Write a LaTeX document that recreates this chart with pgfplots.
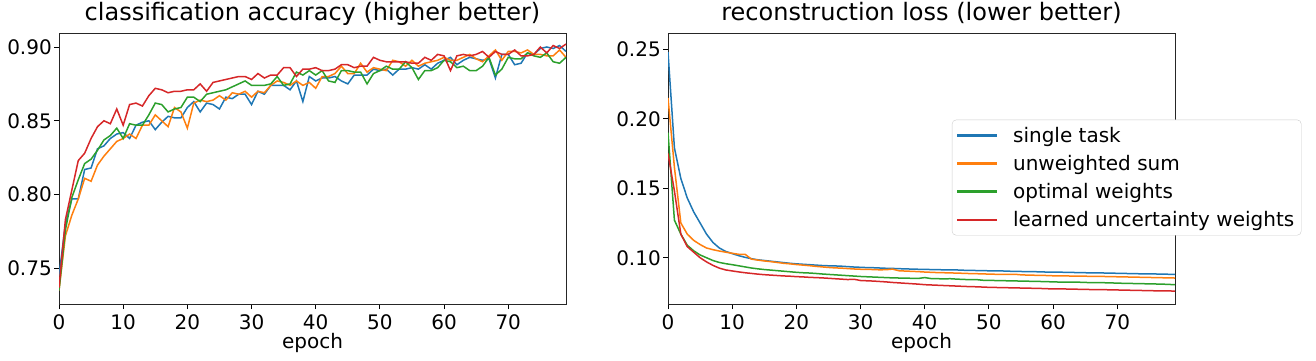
\documentclass[border=0pt]{standalone}
\usepackage{fontspec}
\setmainfont{DejaVu Sans}
\usepackage{pgfplots}
\usepackage{pgfplotstable}
\pgfplotsset{compat=1.18}
\definecolor{tabblue}{HTML}{1F77B4}
\definecolor{taborange}{HTML}{FF7F0E}
\definecolor{tabgreen}{HTML}{2CA02C}
\definecolor{tabred}{HTML}{D62728}

\pgfplotstableread{
e st us ow lu
0 0.745 0.735 0.735 0.737
1 0.780 0.772 0.776 0.783
2 0.797 0.786 0.798 0.803
3 0.797 0.797 0.810 0.823
4 0.817 0.811 0.821 0.828
5 0.818 0.809 0.824 0.838
6 0.831 0.820 0.830 0.846
7 0.833 0.826 0.837 0.850
8 0.838 0.831 0.840 0.848
9 0.841 0.836 0.845 0.858
10 0.842 0.838 0.838 0.847
11 0.838 0.841 0.848 0.861
12 0.847 0.838 0.847 0.862
13 0.849 0.847 0.847 0.860
14 0.850 0.847 0.854 0.867
15 0.844 0.854 0.862 0.872
16 0.849 0.850 0.861 0.871
17 0.853 0.846 0.856 0.869
18 0.852 0.859 0.858 0.870
19 0.852 0.856 0.859 0.870
20 0.859 0.845 0.866 0.871
21 0.863 0.862 0.866 0.871
22 0.856 0.864 0.863 0.875
23 0.862 0.863 0.868 0.870
24 0.861 0.864 0.869 0.876
25 0.858 0.867 0.870 0.877
26 0.866 0.864 0.871 0.878
27 0.865 0.869 0.873 0.879
28 0.868 0.868 0.875 0.880
29 0.868 0.870 0.877 0.880
30 0.861 0.866 0.874 0.878
31 0.870 0.870 0.874 0.882
32 0.868 0.869 0.874 0.879
33 0.874 0.874 0.875 0.881
34 0.874 0.877 0.880 0.881
35 0.874 0.876 0.874 0.886
36 0.871 0.874 0.875 0.886
37 0.877 0.877 0.883 0.880
38 0.863 0.874 0.881 0.885
39 0.880 0.876 0.884 0.885
40 0.877 0.872 0.881 0.886
41 0.879 0.880 0.884 0.884
42 0.879 0.880 0.877 0.884
43 0.880 0.882 0.876 0.885
44 0.877 0.887 0.884 0.888
45 0.875 0.882 0.884 0.888
46 0.881 0.882 0.883 0.886
47 0.881 0.889 0.883 0.887
48 0.881 0.883 0.875 0.887
49 0.885 0.886 0.882 0.893
50 0.884 0.885 0.884 0.891
51 0.885 0.884 0.887 0.890
52 0.881 0.891 0.885 0.890
53 0.885 0.890 0.885 0.890
54 0.885 0.887 0.890 0.890
55 0.886 0.891 0.886 0.889
56 0.885 0.887 0.878 0.889
57 0.888 0.889 0.884 0.893
58 0.885 0.890 0.884 0.891
59 0.889 0.891 0.886 0.895
60 0.891 0.893 0.891 0.894
61 0.893 0.891 0.890 0.884
62 0.888 0.891 0.886 0.894
63 0.891 0.893 0.887 0.895
64 0.893 0.895 0.884 0.894
65 0.892 0.892 0.884 0.895
66 0.891 0.890 0.887 0.897
67 0.892 0.894 0.893 0.893
68 0.879 0.898 0.881 0.897
69 0.895 0.891 0.885 0.895
70 0.895 0.897 0.893 0.895
71 0.888 0.897 0.892 0.898
72 0.889 0.896 0.892 0.894
73 0.896 0.898 0.896 0.894
74 0.895 0.895 0.894 0.895
75 0.899 0.895 0.893 0.900
76 0.900 0.894 0.896 0.896
77 0.899 0.894 0.890 0.901
78 0.901 0.898 0.889 0.899
79 0.897 0.893 0.893 0.902
}\acctable

\pgfplotstableread{
e st us ow lu
0 0.248 0.215 0.190 0.175
1 0.179 0.165 0.127 0.148
2 0.157 0.125 0.117 0.117
3 0.143 0.117 0.109 0.108
4 0.133 0.1125 0.105 0.104
5 0.125 0.1095 0.102 0.100
6 0.117 0.107 0.100 0.097
7 0.111 0.1058 0.098 0.0945
8 0.107 0.1048 0.0966 0.0925
9 0.1045 0.1040 0.0957 0.0912
10 0.1030 0.1032 0.0950 0.0905
11 0.1015 0.1025 0.0942 0.0898
12 0.1003 0.1025 0.0934 0.0892
13 0.0993 0.0990 0.0926 0.0887
14 0.0985 0.0983 0.0920 0.0882
15 0.0980 0.0977 0.0915 0.0878
16 0.0975 0.0972 0.0911 0.0875
17 0.0970 0.0966 0.0907 0.0872
18 0.0965 0.0960 0.0903 0.0869
19 0.0960 0.0956 0.0899 0.0867
20 0.0956 0.0951 0.0895 0.0864
21 0.0953 0.0947 0.0892 0.0862
22 0.0950 0.0943 0.0890 0.0859
23 0.0947 0.0938 0.0887 0.0857
24 0.0944 0.0934 0.0883 0.0855
25 0.0942 0.0930 0.0880 0.0852
26 0.0941 0.0927 0.0877 0.0849
27 0.0939 0.0925 0.0874 0.0846
28 0.0936 0.0922 0.0871 0.0843
29 0.0933 0.0919 0.0868 0.0845
30 0.0931 0.0917 0.0865 0.0836
31 0.0929 0.0916 0.0863 0.0834
32 0.0928 0.0915 0.0861 0.0832
33 0.0926 0.0913 0.0859 0.0829
34 0.0924 0.0914 0.0857 0.0826
35 0.0923 0.0918 0.0855 0.0822
36 0.0921 0.0906 0.0854 0.0819
37 0.0920 0.0904 0.0853 0.0816
38 0.0918 0.0902 0.0852 0.0813
39 0.0917 0.0900 0.0851 0.0810
40 0.0916 0.0897 0.0857 0.0806
41 0.0915 0.0895 0.0850 0.0804
42 0.0914 0.0893 0.0849 0.0802
43 0.0913 0.0892 0.0848 0.0800
44 0.0912 0.0891 0.0849 0.0798
45 0.0912 0.0889 0.0846 0.0796
46 0.0910 0.0888 0.0844 0.0794
47 0.0909 0.0886 0.0842 0.0792
48 0.0908 0.0885 0.0843 0.0791
49 0.0907 0.0884 0.0838 0.0789
50 0.0906 0.0882 0.0837 0.0787
51 0.0905 0.0881 0.0836 0.0786
52 0.0905 0.0880 0.0835 0.0785
53 0.0903 0.0880 0.0834 0.0784
54 0.0902 0.0881 0.0833 0.0783
55 0.0901 0.0877 0.0832 0.0782
56 0.0900 0.0875 0.0831 0.0781
57 0.0900 0.0874 0.0830 0.0780
58 0.0898 0.0873 0.0829 0.0779
59 0.0897 0.0872 0.0828 0.0777
60 0.0896 0.0870 0.0826 0.0776
61 0.0896 0.0870 0.0825 0.0776
62 0.0895 0.0869 0.0825 0.0775
63 0.0894 0.0868 0.0824 0.0774
64 0.0893 0.0868 0.0824 0.0773
65 0.0892 0.0867 0.0822 0.0772
66 0.0891 0.0866 0.0821 0.0771
67 0.0891 0.0866 0.0821 0.0771
68 0.0890 0.0865 0.0820 0.0770
69 0.0889 0.0864 0.0819 0.0769
70 0.0888 0.0863 0.0817 0.0768
71 0.0887 0.0862 0.0816 0.0767
72 0.0886 0.0861 0.0815 0.0766
73 0.0885 0.0860 0.0814 0.0765
74 0.0884 0.0859 0.0813 0.0764
75 0.0884 0.0858 0.0812 0.0763
76 0.0883 0.0857 0.0811 0.0762
77 0.0882 0.0856 0.0810 0.0762
78 0.0881 0.0855 0.0808 0.0761
79 0.0880 0.0854 0.0806 0.0760
}\losstable

\pgfplotsset{
  panel/.style={
    scale only axis, width=507pt, height=271pt,
    anchor=south west,
    xmin=0, xmax=79, xtick={0,10,...,70},
    xtick pos=lower, ytick pos=left,
    tick align=outside, major tick length=5pt,
    every tick/.style={black, line width=0.9pt},
    axis line style={line width=0.9pt, black!85},
    ticklabel style={font=\fontsize{20}{24}\selectfont},
    xticklabel style={inner sep=0pt, yshift=-5pt},
    yticklabel style={inner sep=0pt, xshift=-2pt},
    /pgf/number format/assume math mode=true,
    yticklabel style={/pgf/number format/.cd, fixed, fixed zerofill, precision=2},
    title style={font=\fontsize{24}{28}\selectfont, at={(axis description cs:0.5,1)}, anchor=base, yshift=7pt},
    xlabel style={font=\fontsize{20}{24}\selectfont, at={(axis description cs:0.5,0)}, anchor=base, yshift=-44pt},
    xlabel={epoch},
    every axis plot/.append style={line width=1.5pt, no markers},
    clip=true,
  }
}

\begin{document}
\begin{tikzpicture}
\path[use as bounding box] (0pt,0pt) rectangle (1316pt,360pt);
\begin{axis}[panel, at={(59pt,56pt)},
  ymin=0.7258, ymax=0.9095, ytick={0.75,0.80,0.85,0.90},
  title={classification accuracy (higher better)}]
\addplot[tabblue] table[x=e,y=st]{\acctable};
\addplot[taborange] table[x=e,y=us]{\acctable};
\addplot[tabgreen] table[x=e,y=ow]{\acctable};
\addplot[tabred] table[x=e,y=lu]{\acctable};
\end{axis}
\begin{axis}[panel, at={(668pt,56pt)},
  ymin=0.0667, ymax=0.2617, ytick={0.10,0.15,0.20,0.25},
  title={reconstruction loss (lower better)},
  legend cell align=left,
  legend style={at={(0.56,0.68)}, anchor=north west,
    font=\fontsize{20}{24}\selectfont,
    fill=white, draw=black!20, rounded corners=4pt,
    inner xsep=5pt, inner ysep=5pt, row sep=7.5pt, column sep=14pt},
  legend image code/.code={\fill[#1, draw=none, rounded corners=0pt] (0pt,-1.3pt) rectangle (40pt,1.3pt);},
]
\addplot[tabblue] table[x=e,y=st]{\losstable};
\addlegendentry{single task}
\addplot[taborange] table[x=e,y=us]{\losstable};
\addlegendentry{unweighted sum}
\addplot[tabgreen] table[x=e,y=ow]{\losstable};
\addlegendentry{optimal weights}
\addplot[tabred] table[x=e,y=lu]{\losstable};
\addlegendentry{learned uncertainty weights}
\end{axis}
\end{tikzpicture}
\end{document}
